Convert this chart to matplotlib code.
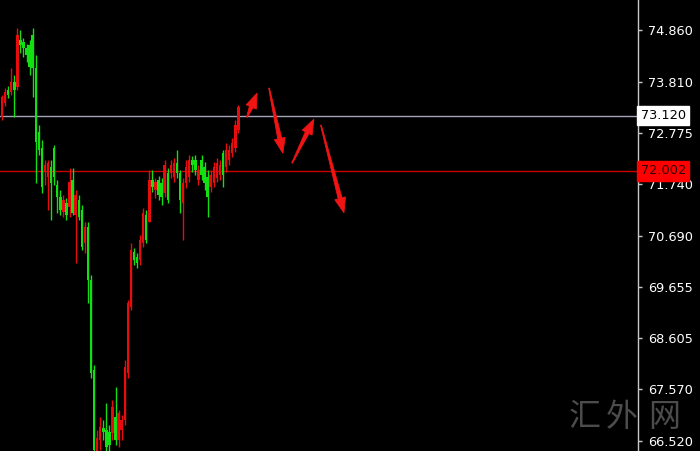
#### #### #### #### #### #### #### #### #### #### #### #### #### #### #### #### #### #### #### ####
### Import functions

import numpy as np
import matplotlib
matplotlib.use('Agg')
import matplotlib.pyplot as plt
from matplotlib.patches import Polygon
from matplotlib.transforms import IdentityTransform


#### #### #### #### #### #### #### #### #### #### #### #### #### #### #### #### #### #### #### ####
#### DATA  (price, one entry per candle)

opens = [73.09, 73.38, 73.64, 73.60, 73.80, 73.70, 74.66, 74.62, 74.49, 74.56,
         74.76, 74.09, 72.79, 72.47, 71.98, 71.88, 72.08, 72.47, 71.71, 71.47,
         71.17, 71.35, 71.27, 71.82, 71.11, 71.41, 71.21, 70.54, 70.86, 69.79,
         67.96, 66.32, 66.54, 66.78, 66.74, 66.70, 66.68, 67.01, 66.54, 66.74,
         66.95, 67.90, 69.24, 70.36, 70.25, 70.19, 70.54, 71.11, 70.96, 71.82,
         71.61, 71.82, 71.76, 71.55, 71.96, 71.96, 71.88, 72.16, 71.96, 71.35,
         71.76, 71.88, 72.22, 72.22, 71.82, 72.22, 72.08, 71.88, 71.67, 71.76,
         71.86, 71.92, 72.36, 72.08, 72.22, 72.36, 72.47, 72.83]
highs = [73.54, 73.68, 73.72, 74.09, 73.95, 74.90, 74.86, 74.70, 74.58, 74.66,
         74.90, 74.35, 72.93, 72.63, 72.22, 72.22, 72.22, 72.53, 71.82, 71.61,
         71.51, 71.45, 72.06, 72.06, 71.61, 71.51, 71.31, 70.96, 70.96, 69.89,
         68.06, 66.74, 67.01, 66.95, 67.29, 66.85, 67.35, 67.62, 67.15, 67.05,
         68.16, 69.38, 70.54, 70.44, 70.34, 70.70, 71.25, 71.21, 72.02, 72.02,
         71.86, 71.90, 71.86, 72.22, 72.06, 72.22, 72.26, 72.42, 72.02, 71.86,
         72.22, 72.32, 72.30, 72.32, 72.12, 72.32, 72.18, 72.02, 72.02, 72.18,
         72.26, 72.22, 72.42, 72.57, 72.53, 72.67, 73.03, 73.34]
lows = [73.03, 73.32, 73.48, 73.54, 73.09, 73.64, 74.39, 74.31, 74.21, 73.95,
        73.50, 71.76, 72.32, 71.55, 71.71, 71.21, 71.00, 71.71, 71.15, 71.11,
        71.07, 71.00, 71.07, 71.11, 70.13, 71.00, 70.40, 70.34, 69.32, 67.80,
        66.30, 66.24, 66.34, 66.54, 66.30, 66.30, 66.54, 66.44, 66.40, 66.54,
        66.85, 67.80, 69.18, 70.09, 70.03, 70.09, 70.46, 70.54, 70.96, 71.57,
        71.45, 71.41, 71.31, 71.47, 71.35, 71.86, 71.78, 71.86, 71.15, 70.60,
        71.65, 71.78, 71.98, 71.92, 71.71, 71.82, 71.61, 71.07, 71.57, 71.67,
        71.78, 71.82, 71.67, 71.98, 72.12, 72.28, 72.38, 72.77]
closes = [73.50, 73.60, 73.54, 73.80, 73.64, 74.76, 74.56, 74.49, 74.35, 74.11,
          74.09, 72.59, 72.42, 71.67, 72.12, 72.16, 71.76, 71.88, 71.47, 71.21,
          71.41, 71.11, 71.78, 71.15, 71.51, 71.07, 70.46, 70.86, 69.79, 67.90,
          66.34, 66.58, 66.80, 66.70, 66.40, 66.44, 67.21, 66.54, 67.09, 66.95,
          68.02, 69.32, 70.40, 70.19, 70.13, 70.60, 71.15, 70.60, 71.82, 71.67,
          71.78, 71.51, 71.47, 72.12, 71.41, 72.12, 72.16, 71.96, 71.41, 71.76,
          72.08, 72.22, 72.12, 72.02, 72.02, 71.92, 71.76, 71.47, 71.92, 72.08,
          72.16, 72.12, 71.92, 72.42, 72.42, 72.57, 72.93, 73.30]

price_ticks = [74.860, 73.810, 72.775, 71.740, 70.690, 69.655, 68.605, 67.570, 66.520]

level_gray = 73.120
level_red = 72.002

# hand-drawn arrows: (tail bar, tail price) -> (head bar, head price)
arrows = [((79.8, 73.09), (83.1, 73.58)),
          ((87.0, 73.68), (91.5, 72.36)),
          ((94.5, 72.16), (101.6, 73.05)),
          ((103.9, 72.93), (111.4, 71.15))]

watermark = '汇外网'


#### #### #### #### #### #### #### #### #### #### #### #### #### #### #### #### #### #### #### ####
#### PLOT

clr_up = '#e80c0c'
clr_dn = '#12e012'
clr_axis = '#c8c8c8'

fg = plt.figure(figsize=(7.0, 4.51), dpi=100, facecolor='black')
ax = fg.add_axes([0, 0, 638/700., 1])
ax.set_facecolor('black')

idx = np.arange(len(opens))
o = np.array(opens); h = np.array(highs); l = np.array(lows); c = np.array(closes)
up = c >= o
col = np.where(up, clr_up, clr_dn)

ax.vlines(idx, l, h, colors=col, linewidth=1.0, zorder=3)
ax.bar(idx, np.abs(c - o), bottom=np.minimum(o, c), width=0.8, color=col,
       linewidth=0, zorder=4)

# levels
ax.axhline(level_gray, color='#a4a4b8', linewidth=1.0, zorder=2)
ax.axhline(level_red, color='#cc0000', linewidth=1.0, zorder=2)

ax.set_xlim(-0.65, 207.2)
ax.set_ylim(66.317, 75.469)

# tapered arrows, built in pixel space so the shape does not depend on the scales
def TaperArrow(ax, p0, p1, head_len=15., head_w=11., shaft_w=4.):
	a = ax.transData.transform(p0)
	b = ax.transData.transform(p1)
	d = b - a
	L = np.hypot(*d)
	u = d / L
	n = np.array([-u[1], u[0]])
	base = b - u*head_len
	pts = [a + n*0.4, base + n*shaft_w/2, base + n*head_w/2, b,
	       base - n*head_w/2, base - n*shaft_w/2, a - n*0.4]
	pg = Polygon(pts, closed=True, transform=IdentityTransform(), fc='#f01414',
	             ec='#f01414', lw=0.6, zorder=5)
	ax.add_artist(pg)

fg.canvas.draw()
for p0, p1 in arrows:
	TaperArrow(ax, p0, p1)

# axis look
for s in ['top', 'left', 'bottom']:
    ax.spines[s].set_visible(False)
ax.spines['right'].set_color(clr_axis)
ax.spines['right'].set_linewidth(1.0)
ax.set_xticks([])
ax.yaxis.tick_right()
ax.set_yticks(price_ticks)
ax.set_yticklabels(['%.3f' % v for v in price_ticks])
ax.tick_params(axis='y', colors=clr_axis, labelcolor='white', length=3, width=1,
               direction='out', pad=4, labelsize=9.3)

# price tags on the axis
tr = ax.get_yaxis_transform()
ax.text(1.004, level_gray, '%.3f' % level_gray, transform=tr, ha='left', va='center',
        fontsize=9.3, color='black', clip_on=False, zorder=6,
        bbox=dict(boxstyle='square,pad=0.25', fc='white', ec='white'))
ax.text(1.004, level_red, '%.3f' % level_red, transform=tr, ha='left', va='center',
        fontsize=9.3, color='#300000', clip_on=False, zorder=6,
        bbox=dict(boxstyle='square,pad=0.25', fc='#ff0000', ec='#ff0000'))

# watermark, one character at a time (wide spacing as in the source)
for ch, xc in zip(watermark, [585/700., 622/700., 664/700.]):
	fg.text(xc, 1 - 417/451., ch, ha='center', va='center', fontsize=23,
	        color='#4c4c4c', family=['Noto Sans CJK SC', 'DejaVu Sans'], weight='light')

plt.savefig('out.png', dpi=100, facecolor='black')
